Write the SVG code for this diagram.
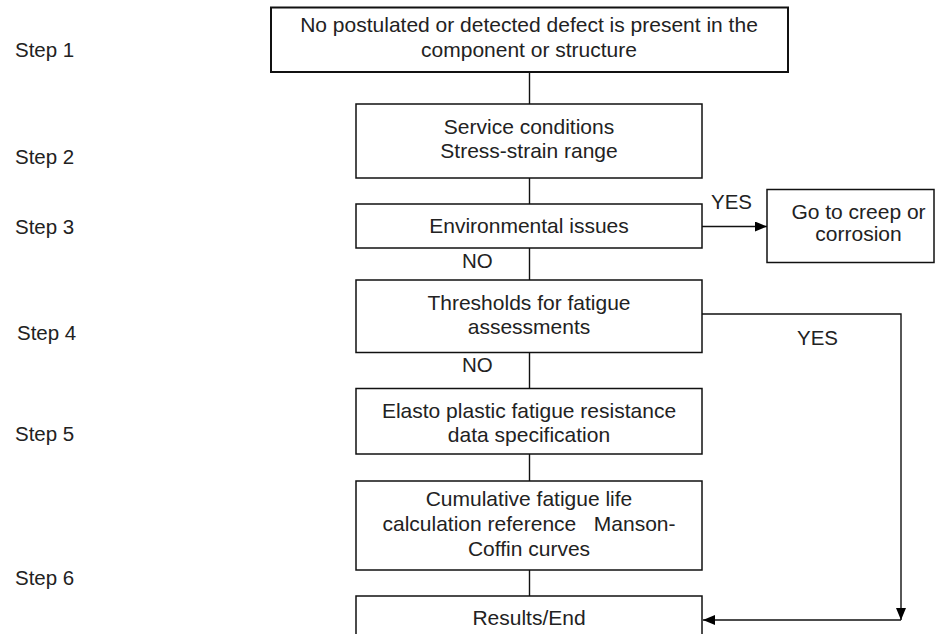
<svg xmlns="http://www.w3.org/2000/svg" width="936" height="634" viewBox="0 0 936 634">
  <style>
    .box { fill: #ffffff; stroke: #111111; stroke-width: 1.5; }
    .txt { font-family: "Liberation Sans", Arial, sans-serif; font-size: 21px; fill: #222222; text-anchor: middle; }
    .step { font-family: "Liberation Sans", Arial, sans-serif; font-size: 20.5px; fill: #222222; }
    .lbl { font-family: "Liberation Sans", Arial, sans-serif; font-size: 20.5px; fill: #222222; }
    .wire { fill: none; stroke: #111111; stroke-width: 1.4; }
  </style>
  <defs>
    <marker id="arrow" viewBox="0 0 12 10" refX="12" refY="5" markerWidth="12" markerHeight="10" markerUnits="userSpaceOnUse" orient="auto">
      <path d="M0,0 L12,5 L0,10 Z" fill="#000000"/>
    </marker>
  </defs>
  <rect width="936" height="634" fill="#ffffff"/>

  <!-- step column -->
  <g id="steps">
    <text class="step" x="15" y="57">Step 1</text>
    <text class="step" x="15" y="164">Step 2</text>
    <text class="step" x="15" y="234">Step 3</text>
    <text class="step" x="17" y="340">Step 4</text>
    <text class="step" x="15" y="441">Step 5</text>
    <text class="step" x="15" y="585">Step 6</text>
  </g>

  <!-- connectors -->
  <g id="connectors">
    <line class="wire" x1="529.5" y1="72" x2="529.5" y2="104"/>
    <line class="wire" x1="529.5" y1="178" x2="529.5" y2="204"/>
    <line class="wire" x1="702" y1="226.5" x2="767" y2="226.5" marker-end="url(#arrow)"/>
    <line class="wire" x1="529.5" y1="248" x2="529.5" y2="280"/>
    <line class="wire" x1="529.5" y1="352.5" x2="529.5" y2="388.5"/>
    <line class="wire" x1="529.5" y1="454" x2="529.5" y2="481"/>
    <line class="wire" x1="529.5" y1="570" x2="529.5" y2="596"/>
    <polyline class="wire" points="702,314 901,314 901,620" marker-end="url(#arrow)"/>
    <line class="wire" x1="901" y1="620" x2="703" y2="620" marker-end="url(#arrow)"/>
    <text class="lbl" x="711" y="208.5">YES</text>
    <text class="lbl" x="462" y="268">NO</text>
    <text class="lbl" x="797" y="345">YES</text>
    <text class="lbl" x="462" y="372">NO</text>
  </g>

  <g id="node-defect">
    <rect class="box" x="271" y="7.5" width="517" height="64.5" style="stroke-width:2"/>
    <text class="txt" x="529" y="32">No postulated or detected defect is present in the</text>
    <text class="txt" x="529" y="57">component or structure</text>
  </g>

  <g id="node-service">
    <rect class="box" x="356" y="104" width="346" height="74"/>
    <text class="txt" x="529" y="133.5">Service conditions</text>
    <text class="txt" x="529" y="157.5">Stress-strain range</text>
  </g>

  <g id="node-environment">
    <rect class="box" x="356" y="204" width="346" height="44"/>
    <text class="txt" x="529" y="233">Environmental issues</text>
  </g>

  <g id="node-creep">
    <rect class="box" x="767" y="189.5" width="167" height="73"/>
    <text class="txt" x="858.5" y="218.5">Go to creep or</text>
    <text class="txt" x="858.5" y="240.5">corrosion</text>
  </g>

  <g id="node-thresholds">
    <rect class="box" x="356" y="280" width="346" height="72.5"/>
    <text class="txt" x="529" y="309.5">Thresholds for fatigue</text>
    <text class="txt" x="529" y="333.5">assessments</text>
  </g>

  <g id="node-elasto">
    <rect class="box" x="356" y="388.5" width="346" height="65.5"/>
    <text class="txt" x="529" y="418">Elasto plastic fatigue resistance</text>
    <text class="txt" x="529" y="442">data specification</text>
  </g>

  <g id="node-cumulative">
    <rect class="box" x="356" y="481" width="346" height="89"/>
    <text class="txt" x="529" y="506">Cumulative fatigue life</text>
    <text class="txt" x="529" y="531" xml:space="preserve" style="white-space:pre">calculation reference   Manson-</text>
    <text class="txt" x="529" y="556">Coffin curves</text>
  </g>

  <g id="node-results">
    <rect class="box" x="356" y="596" width="346" height="60"/>
    <text class="txt" x="529" y="625">Results/End</text>
  </g>
</svg>
